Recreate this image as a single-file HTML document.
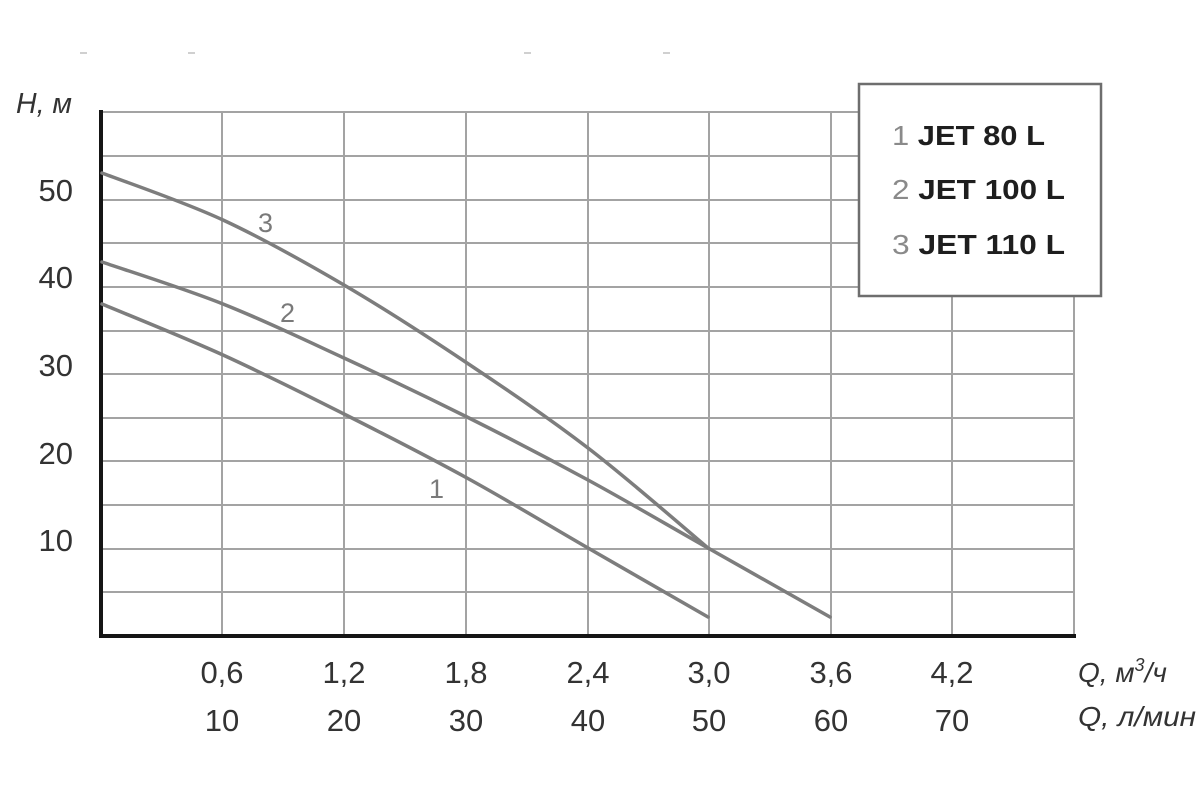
<!DOCTYPE html>
<html>
<head>
<meta charset="utf-8">
<style>
  html,body{margin:0;padding:0;background:#fff;}
  svg{display:block;}
  text{font-family:"Liberation Sans", "DejaVu Sans", sans-serif;}
</style>
</head>
<body>
<svg width="1200" height="800" viewBox="0 0 1200 800" xmlns="http://www.w3.org/2000/svg">
  <rect x="0" y="0" width="1200" height="800" fill="#ffffff"/>

  <!-- faint top marks -->
  <g stroke="#d0d0d0" stroke-width="2">
    <line x1="80" y1="53" x2="87" y2="53"/>
    <line x1="188" y1="53" x2="195" y2="53"/>
    <line x1="524" y1="53" x2="531" y2="53"/>
    <line x1="663" y1="53" x2="670" y2="53"/>
  </g>

  <!-- horizontal grid -->
  <g stroke="#a3a3a3" stroke-width="2">
    <line x1="100" y1="112" x2="1075" y2="112"/>
    <line x1="100" y1="156" x2="1075" y2="156"/>
    <line x1="100" y1="200" x2="1075" y2="200"/>
    <line x1="100" y1="243" x2="1075" y2="243"/>
    <line x1="100" y1="287" x2="1075" y2="287"/>
    <line x1="100" y1="331" x2="1075" y2="331"/>
    <line x1="100" y1="374" x2="1075" y2="374"/>
    <line x1="100" y1="418" x2="1075" y2="418"/>
    <line x1="100" y1="461" x2="1075" y2="461"/>
    <line x1="100" y1="505" x2="1075" y2="505"/>
    <line x1="100" y1="549" x2="1075" y2="549"/>
    <line x1="100" y1="592" x2="1075" y2="592"/>
  </g>
  <!-- vertical grid -->
  <g stroke="#a3a3a3" stroke-width="2">
    <line x1="222" y1="112" x2="222" y2="636"/>
    <line x1="344" y1="112" x2="344" y2="636"/>
    <line x1="466" y1="112" x2="466" y2="636"/>
    <line x1="588" y1="112" x2="588" y2="636"/>
    <line x1="709" y1="112" x2="709" y2="636"/>
    <line x1="831" y1="112" x2="831" y2="636"/>
    <line x1="952" y1="112" x2="952" y2="636"/>
    <line x1="1074" y1="112" x2="1074" y2="636"/>
  </g>

  <!-- axes -->
  <line x1="101" y1="110" x2="101" y2="638" stroke="#151515" stroke-width="4"/>
  <line x1="99" y1="636" x2="1076" y2="636" stroke="#151515" stroke-width="4"/>

  <!-- curves -->
  <g fill="none" stroke="#7d7d7d" stroke-width="3.5" stroke-linecap="round">
    <!-- 3 -->
    <path d="M102,173 C122.2,180.8 182.7,201.3 223,220 C263.3,238.7 303.3,261.2 344,285 C384.7,308.8 426.3,335.8 467,363 C507.7,390.2 547.8,417.2 588,448 C628.2,478.8 688,531.3 708,548"/>
    <!-- 2 -->
    <path d="M102,262 C122.2,269 182.7,288 223,304 C263.3,320 303.3,339.2 344,358 C384.7,376.8 426.3,396.7 467,417 C507.7,437.3 547.8,458.2 588,480 C628.2,501.8 667.7,525.2 708,548 C748.3,570.8 809.7,605.5 830,617"/>
    <!-- 1 -->
    <path d="M102,304 C122.2,312.5 182.7,336.7 223,355 C263.3,373.3 303.3,393.5 344,414 C384.7,434.5 426.3,455.7 467,478 C507.7,500.3 547.8,524.8 588,548 C628.2,571.2 688,605.5 708,617"/>
  </g>

  <!-- curve labels -->
  <g fill="#7a7a7a" font-size="27">
    <text x="265.5" y="232" text-anchor="middle">3</text>
    <text x="287.5" y="322" text-anchor="middle">2</text>
    <text x="436.5" y="498" text-anchor="middle">1</text>
  </g>

  <!-- Y axis labels -->
  <text x="16" y="113" font-size="29" font-style="italic" fill="#333" textLength="56" lengthAdjust="spacingAndGlyphs">H, м</text>
  <g fill="#333" font-size="31" text-anchor="end">
    <text x="73" y="201">50</text>
    <text x="73" y="288">40</text>
    <text x="73" y="376">30</text>
    <text x="73" y="464">20</text>
    <text x="73" y="551">10</text>
  </g>

  <!-- X axis labels -->
  <g fill="#333" font-size="31" text-anchor="middle">
    <text x="222" y="683">0,6</text>
    <text x="344" y="683">1,2</text>
    <text x="466" y="683">1,8</text>
    <text x="588" y="683">2,4</text>
    <text x="709" y="683">3,0</text>
    <text x="831" y="683">3,6</text>
    <text x="952" y="683">4,2</text>
    <text x="222" y="731">10</text>
    <text x="344" y="731">20</text>
    <text x="466" y="731">30</text>
    <text x="588" y="731">40</text>
    <text x="709" y="731">50</text>
    <text x="831" y="731">60</text>
    <text x="952" y="731">70</text>
  </g>
  <text x="1078" y="682" font-size="28" font-style="italic" fill="#333">Q, м<tspan font-size="18" dy="-11">3</tspan><tspan dy="11">/ч</tspan></text>
  <text x="1078" y="726" font-size="28" font-style="italic" fill="#333" textLength="118" lengthAdjust="spacingAndGlyphs">Q, л/мин</text>

  <!-- legend -->
  <rect x="859" y="84" width="242" height="212" fill="#ffffff" stroke="#6e6e6e" stroke-width="2.5"/>
  <g font-size="28">
    <text x="892" y="145" textLength="153" lengthAdjust="spacingAndGlyphs"><tspan fill="#8a8a8a">1 </tspan><tspan fill="#1e1e1e" font-weight="bold">JET 80 L</tspan></text>
    <text x="892" y="199" textLength="173" lengthAdjust="spacingAndGlyphs"><tspan fill="#8a8a8a">2 </tspan><tspan fill="#1e1e1e" font-weight="bold">JET 100 L</tspan></text>
    <text x="892" y="254" textLength="173" lengthAdjust="spacingAndGlyphs"><tspan fill="#8a8a8a">3 </tspan><tspan fill="#1e1e1e" font-weight="bold">JET 110 L</tspan></text>
  </g>
</svg>
</body>
</html>
